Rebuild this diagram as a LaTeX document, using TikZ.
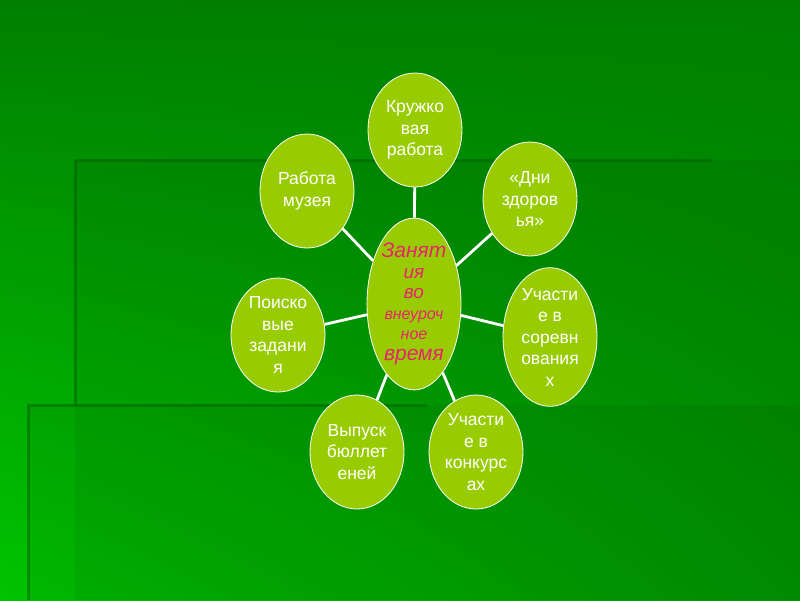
\documentclass[tikz,border=0pt]{standalone}
\usepackage{fontspec}
\setmainfont{Liberation Sans}
\usetikzlibrary{shapes.geometric,shadings}
\definecolor{cfon}{HTML}{007F00}
\definecolor{cfonb}{HTML}{00C400}
\definecolor{cfonr}{HTML}{009A00}
\definecolor{cten}{HTML}{005F00}
\definecolor{ckrug}{HTML}{99CC00}
\definecolor{czan}{HTML}{E8246A}

\tikzset{
  krug/.style={ellipse,draw=white,line width=0.8pt,fill=ckrug,minimum width=94pt,
    minimum height=114pt,inner sep=0pt,align=center,text=white,
    font=\fontsize{17.5}{21.5}\selectfont},
  luch/.style={white,line width=2.8pt},
}

\begin{document}
\begin{tikzpicture}[x=1pt,y=-1pt]
  \useasboundingbox (0,0) rectangle (800,600);
  % fon
  \shade[shading=bilinear interpolation,upper left=cfon,upper right=cfon,lower left=cfonb,lower right=cfonr] (0,0) rectangle (800,600);
  \fill[black,opacity=0.05] (75,160) rectangle (800,600);
  \fill[black,opacity=0.05] (28,405) rectangle (800,600);
  \draw[cten,line width=3pt,opacity=0.5] (75,405) -- (75,160) -- (712,160);
  \draw[cten,line width=3pt,opacity=0.5] (28,600) -- (28,405) -- (427,405);
  % krugi
  \node[krug,text=czan,font=\fontsize{19}{20.5}\selectfont\itshape] (zan) at (414,304)
    {{\fontsize{21}{20.5}\selectfont Занят}\\ия\\во\\{\fontsize{16}{20.5}\selectfont внеуроч}\\
     {\fontsize{16}{20.5}\selectfont ное}\\{\fontsize{21}{20.5}\selectfont время}};
  \node[krug] (kruzh) at (415,130) {Кружко\\вая\\работа};
  \node[krug] (dni) at (530,199) {«Дни\\здоров\\ья»};
  \node[krug] (sorev) at (550,337) {Участи\\е в\\соревн\\ования\\х};
  \node[krug] (konk) at (476,452) {Участи\\е в\\конкурс\\ах};
  \node[krug] (vyp) at (357,452) {Выпуск\\бюллет\\еней};
  \node[krug] (poisk) at (278,335) {Поиско\\вые\\задани\\я};
  \node[krug] (muz) at (307,191) {Работа\\музея};
  % luchi
  \foreach \k in {kruzh,dni,sorev,konk,vyp,poisk,muz}
    \draw[luch] (zan) -- (\k);
\end{tikzpicture}
\end{document}
